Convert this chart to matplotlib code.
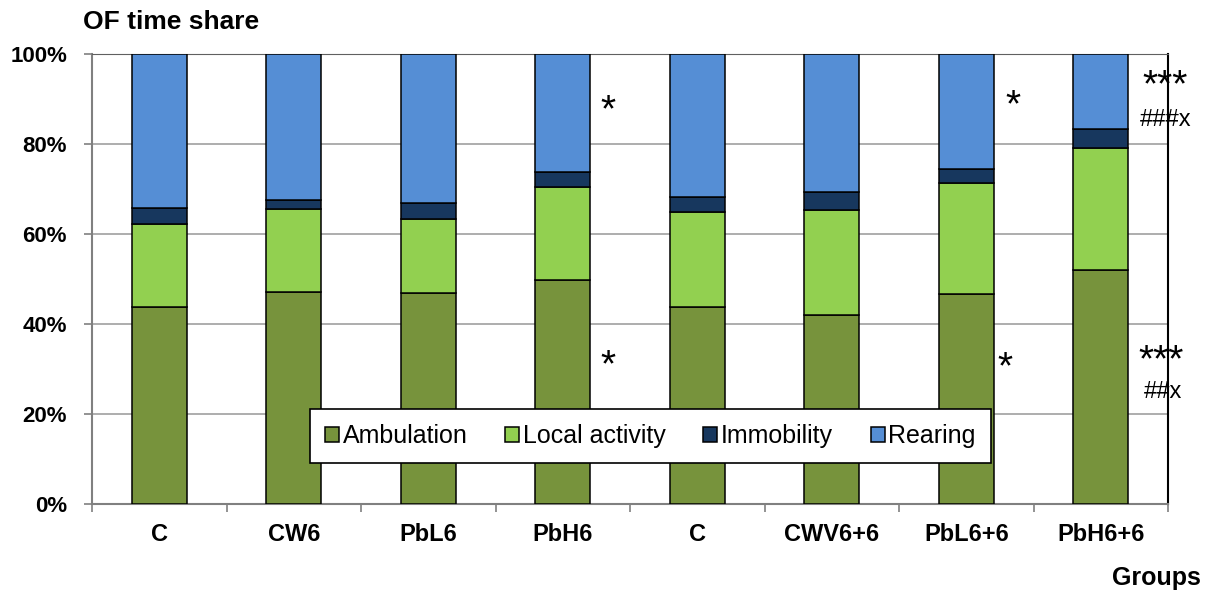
import matplotlib.pyplot as plt
import numpy as np

plt.rcParams['font.family'] = ['Liberation Sans', 'DejaVu Sans']

# dados (% do tempo)
grupos = ['C', 'CW6', 'PbL6', 'PbH6', 'C', 'CWV6+6', 'PbL6+6', 'PbH6+6']
ambulation = [43.8, 47.2, 47.0, 49.9, 43.7, 42.1, 46.6, 52.1]
local_activity = [18.5, 18.4, 16.4, 20.5, 21.3, 23.3, 24.8, 27.1]
immobility = [3.6, 2.0, 3.6, 3.4, 3.3, 4.0, 3.1, 4.2]
rearing = [34.1, 32.4, 33.0, 26.2, 31.7, 30.6, 25.5, 16.6]

series = [('Ambulation', ambulation, '#77933C'),
          ('Local activity', local_activity, '#92D050'),
          ('Immobility', immobility, '#17375E'),
          ('Rearing', rearing, '#558ED5')]

# marcas de significancia: (x, y, texto)
marcas_x = [3.34, 3.34, 6.35, 6.29, 7.476, 7.48, 7.45, 7.46]
marcas_y = [87.3, 30.6, 88.4, 30.2, 92.9, 85.3, 31.8, 24.9]
marcas_txt = ['*', '*', '*', '*', '***', '###x', '***', '##x']

fig = plt.figure(figsize=(12.09, 5.95), dpi=100)
ax = fig.add_axes([0.0761, 0.153, 0.89, 0.756])

x = np.arange(len(grupos))
base = np.zeros(len(grupos))
for nome, vals, cor in series:
    ax.bar(x, vals, 0.41, bottom=base, color=cor, edgecolor='black',
           linewidth=1.1, label=nome, zorder=3)
    base = base + np.array(vals)

ax.set_xlim(-0.5, len(grupos) - 0.5)
ax.set_ylim(0, 100)
ax.set_yticks(np.arange(0, 101, 20))
ax.set_yticklabels(['%d%%' % v for v in range(0, 101, 20)],
                   fontsize=16, fontweight='bold')
ax.yaxis.grid(True, color='#A0A0A0', linewidth=1.2, zorder=0)

ax.set_xticks(x)
ax.set_xticklabels(grupos, fontsize=17, fontweight='bold')
ax.set_xticks(np.arange(-0.5, len(grupos)), minor=True)
ax.tick_params(axis='x', which='major', length=0, pad=14)
ax.tick_params(axis='x', which='minor', length=6, color='#808080', width=1.2)
ax.tick_params(axis='y', length=6, color='#808080', width=1.2, pad=12)

for lado in ['left', 'bottom']:
    ax.spines[lado].set_color('#808080')
    ax.spines[lado].set_linewidth(1.5)
ax.spines['top'].set_color('#606060')
ax.spines['right'].set_color('black')
ax.spines['right'].set_linewidth(1.5)

for mx, my, txt in zip(marcas_x, marcas_y, marcas_txt):
    if '*' in txt:
        ax.text(mx, my, txt, fontsize=28, ha='center', va='center', zorder=5)
    else:
        ax.text(mx, my, txt, fontsize=17, ha='center', va='center', zorder=5)

leg = ax.legend(loc='center', bbox_to_anchor=(0.519, 0.151), ncol=4,
                prop={'family': ['Liberation Sans Narrow', 'Liberation Sans'],
                      'size': 18},
                frameon=True, fancybox=False, framealpha=1,
                edgecolor='black', handlelength=0.56, handleheight=0.56,
                handletextpad=0.15, columnspacing=1.5, borderpad=0.6)
leg.get_frame().set_linewidth(1.2)
leg.set_zorder(6)

fig.text(0.069, 0.963, 'OF time share', fontsize=19, fontweight='bold',
         ha='left', va='center')
fig.text(0.993, 0.028, 'Groups', fontsize=18, fontweight='bold',
         ha='right', va='center')

fig.savefig('out.png', dpi=100)
